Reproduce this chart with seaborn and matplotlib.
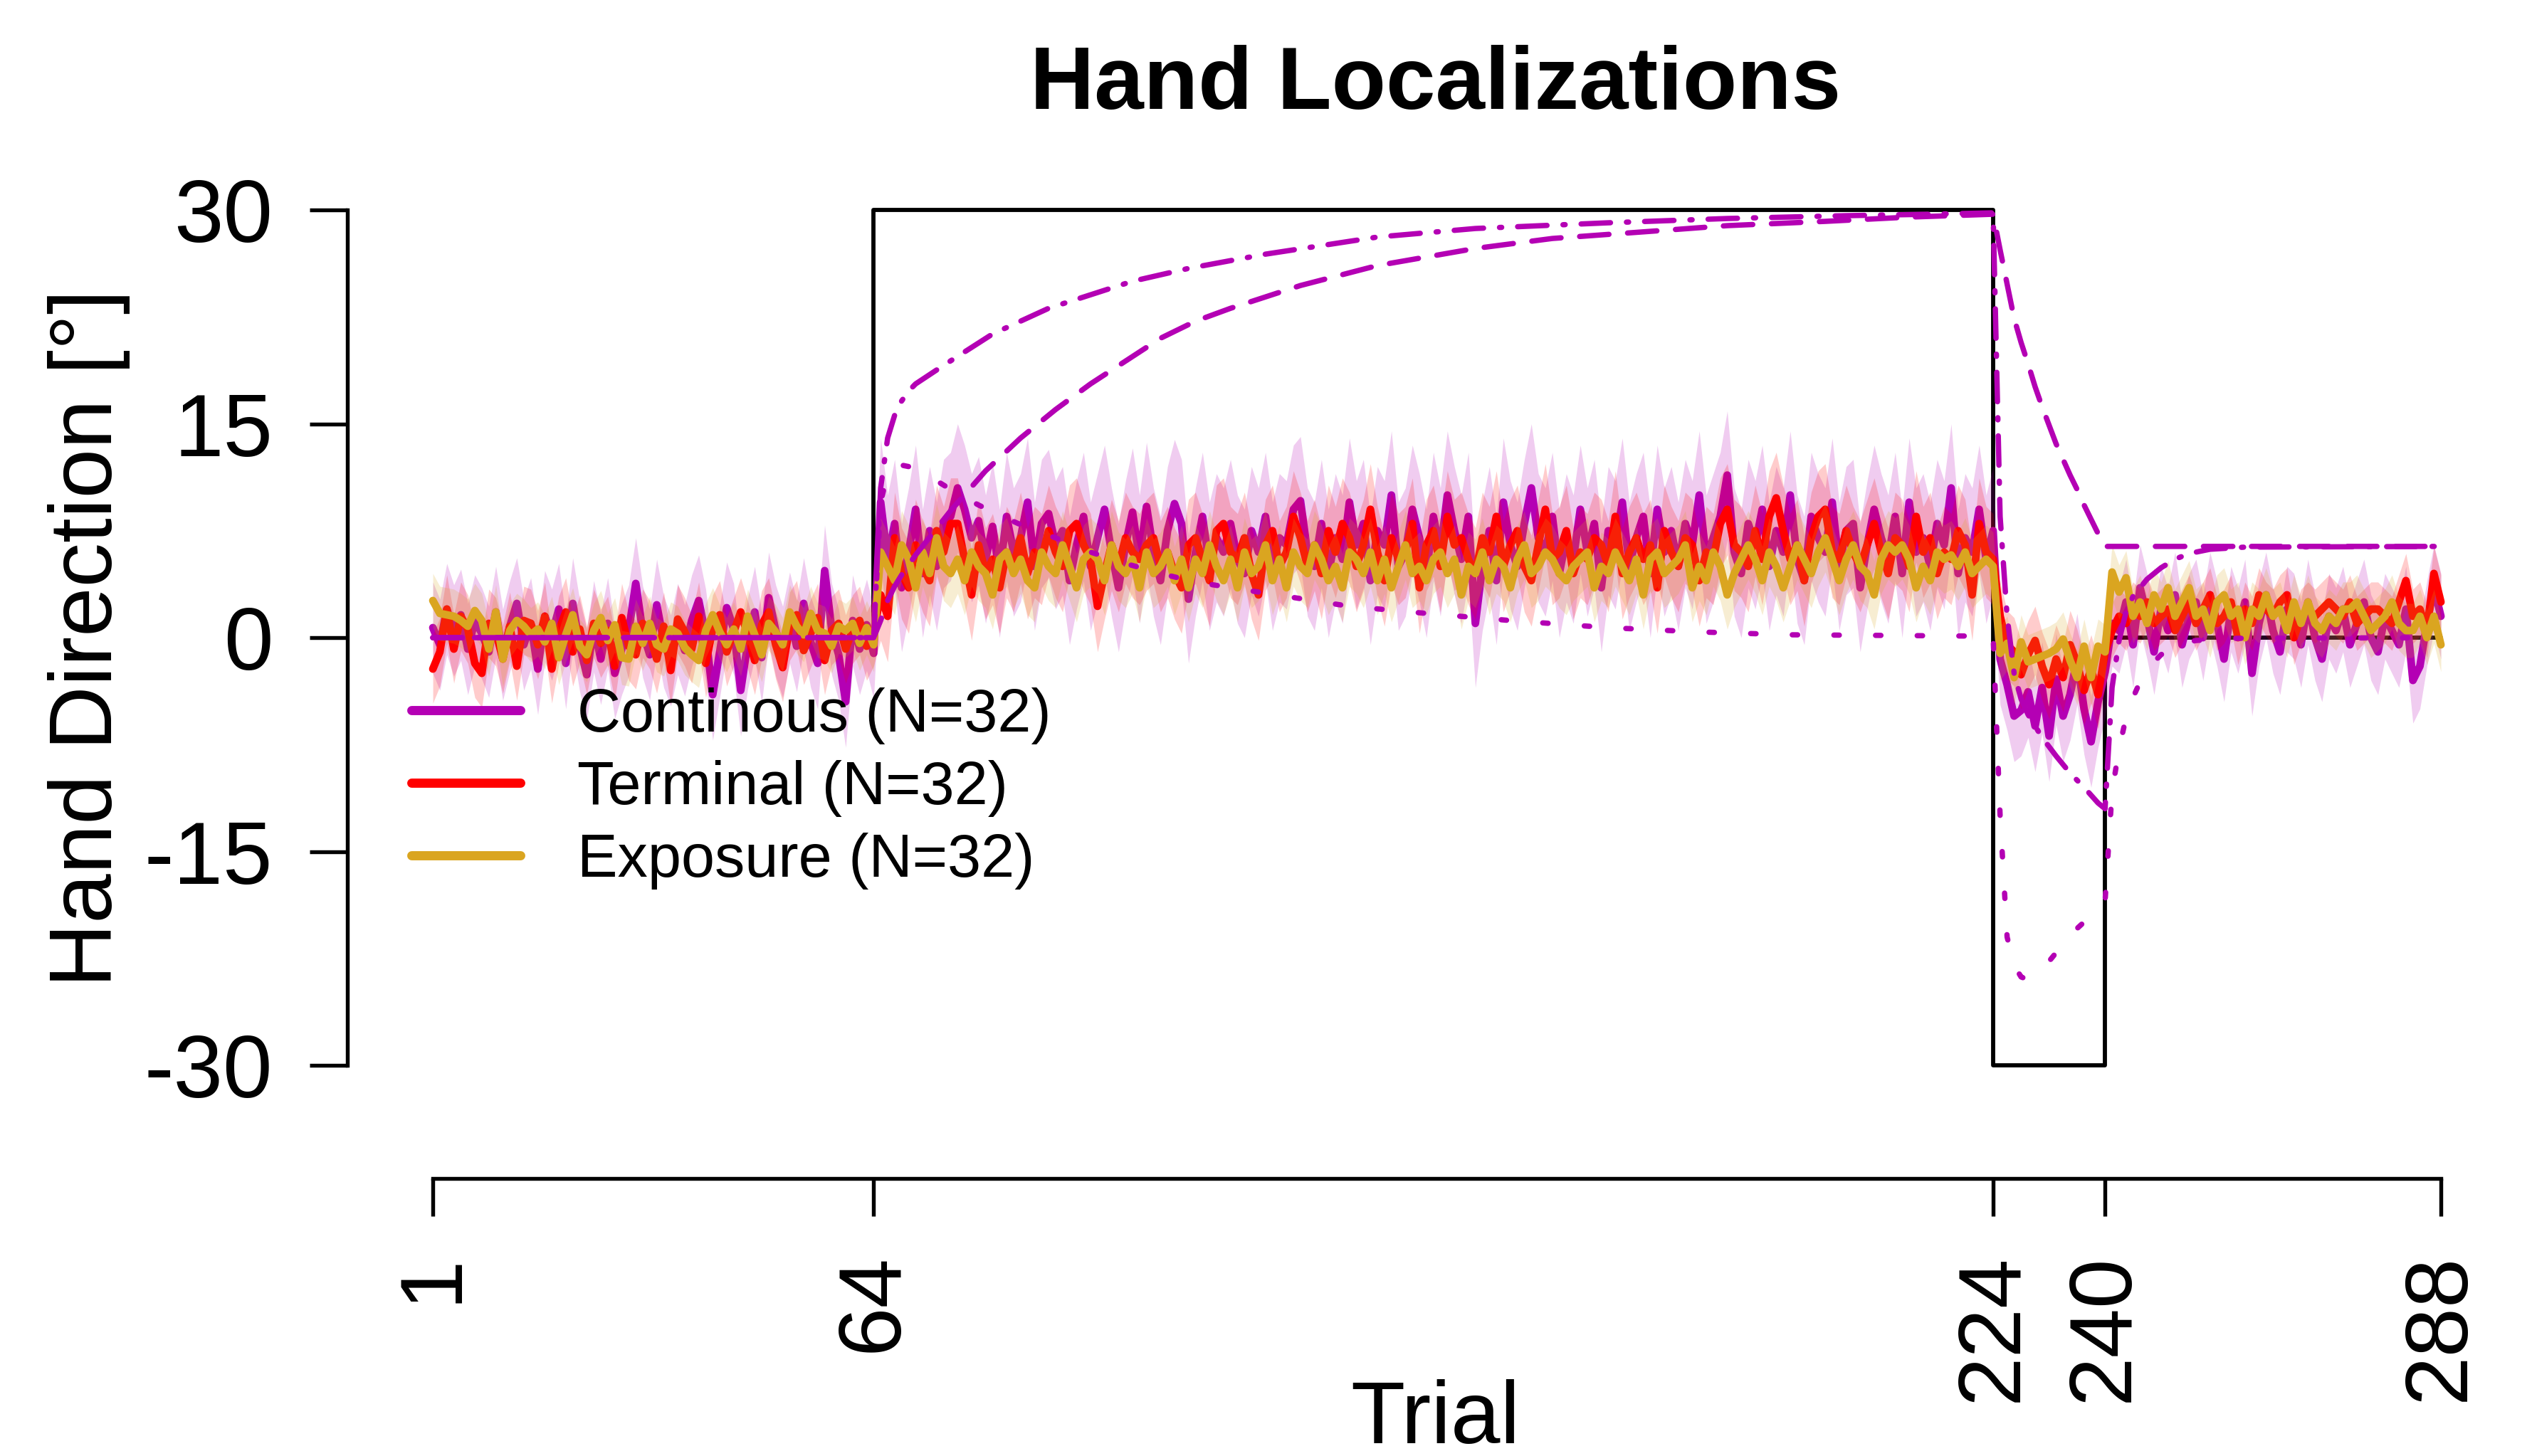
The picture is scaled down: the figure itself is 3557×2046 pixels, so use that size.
import numpy as np
import matplotlib
matplotlib.use("Agg")
import matplotlib.pyplot as plt
import seaborn as sns

# trial layout
trials = np.arange(1, 289)
phase_lengths = [64, 160, 16, 48]
xtick_trials = [1, 64, 224, 240, 288]
ytick_values = [-30, -15, 0, 15, 30]

# rotation schedule (black line)
schedule_x = [1, 64, 64, 224, 224, 240, 240, 288]
schedule_y = [0, 0, 30, 30, -30, -30, 0, 0]

# group means per trial, by phase: baseline (1-64), rotation (65-224), reversal (225-240), clamp (241-288)
continuous_base = [0.7, -0.5, 2.0, 0.5, 1.6, -0.8, 1.2, 0.3, -1.0, 1.8,
                   -1.2, 0.8, 2.4, -0.5, 1.0, -2.2, 1.5, 0.2, 2.0, -1.8,
                   2.4, -0.6, -2.6, 0.8, -1.5, 1.0, -2.5, -0.8, 0.5, 3.8,
                   0.4, -1.2, 2.3, -0.3, -1.6, 0.6, -0.9, 1.2, 2.6, 0.2,
                   -4.0, -1.0, 2.1, 0.6, -3.7, -0.4, 1.8, -1.4, 2.8, 0.5,
                   -1.0, 1.4, -0.6, 2.4, -0.3, -1.8, 4.7, 0.6, -1.2, -4.5,
                   1.2, -0.8, 0.9, -1.1]
continuous_rot = [9.5, 5.5, 8.0, 3.5, 6.0, 9.0, 4.5, 7.5, 5.0, 8.0,
                  8.5, 10.5, 9.0, 7.0, 8.2, 5.5, 7.8, 4.5, 8.5, 6.0,
                  7.0, 9.5, 5.0, 8.0, 8.7, 6.5, 7.5, 4.0, 6.5, 8.5,
                  5.0, 7.0, 9.0, 6.0, 3.5, 6.5, 8.8, 5.5, 9.2, 6.0,
                  4.0, 7.5, 9.4, 8.0, 2.7, 6.0, 8.5, 5.0, 7.0, 6.0,
                  8.0, 5.5, 4.5, 7.5, 6.0, 8.5, 5.0, 7.0, 6.5, 9.0,
                  9.6, 6.0, 5.0, 8.0, 4.5, 7.0, 5.5, 9.5, 6.5, 8.0,
                  4.0, 7.5, 6.5, 10.0, 5.0, 6.0, 9.0, 7.0, 4.5, 8.5,
                  6.0, 10.0, 7.5, 5.5, 8.5, 1.0, 5.0, 7.5, 4.0, 9.5,
                  6.5, 5.0, 8.0, 10.5, 7.0, 6.0, 8.5, 4.5, 7.0, 5.5,
                  9.0, 6.0, 8.0, 3.5, 7.5, 6.5, 9.5, 5.0, 7.0, 8.5,
                  4.5, 9.0, 6.0, 7.5, 5.0, 8.0, 6.5, 10.0, 5.5, 7.0,
                  8.5, 11.4, 6.0, 4.5, 8.0, 6.5, 9.0, 5.0, 7.5, 6.0,
                  10.0, 5.5, 4.0, 8.5, 7.0, 6.0, 9.5, 5.0, 7.5, 8.0,
                  3.5, 6.5, 9.0, 7.0, 5.5, 8.5, 4.5, 9.5, 6.0, 7.0,
                  5.0, 8.0, 6.5, 10.5, 4.5, 7.0, 6.0, 9.0, 5.5, 7.5]
continuous_rev = [-1.5, -3.3, -5.5, -5.1, -3.8, -6.2, -3.5, -6.9,
                  -2.9, -5.5, -4.0, -1.5, -5.0, -7.3, -4.5, -2.4]
continuous_clamp = [1.0, 0.5, 2.5, -0.5, 3.5, 1.5, -1.0, 2.0, 0.5, 3.0,
                    -0.5, 1.5, 2.5, 0.0, 3.0, 1.0, -1.5, 2.0, 0.5, 2.5,
                    -2.5, 1.0, 3.0, 0.5, -1.0, 2.0, 1.5, -0.5, 2.5, 0.0,
                    -1.5, 1.5, 0.5, 2.0, -0.5, 1.0, 2.5, 0.0, -1.0, 1.5,
                    0.5, -0.5, 2.0, -3.0, -2.0, 1.0, 3.5, 1.5]

terminal_base = [-2.2, -1.0, 2.0, -0.8, 1.5, 0.6, -1.8, -2.5, 1.0, 0.4,
                 -1.5, 0.8, -2.0, 1.2, 1.0, -0.5, 1.5, -2.2, 0.5, 1.8,
                 -1.0, 0.6, -1.6, 1.0, -0.4, 0.5, -2.0, 1.4, -0.6, -1.2,
                 1.0, 0.2, -1.5, 0.8, -2.3, 1.3, 0.4, -0.8, 1.5, -1.8,
                 0.6, 1.6, -1.0, 0.4, 1.8, 0.2, -1.6, 0.9, 1.8, -0.5,
                 -2.1, 0.8, 1.6, -0.9, 0.3, 1.4, -1.6, 0.5, 1.0, -0.8,
                 0.6, 1.2, -0.6, 0.4]
terminal_rot = [3.0, 1.5, 7.0, 4.5, 3.5, 6.5, 5.0, 4.0, 7.5, 6.0,
                8.0, 8.0, 5.5, 3.0, 6.5, 4.5, 5.5, 3.5, 6.0, 5.0,
                7.0, 4.5, 6.0, 5.5, 7.5, 6.0, 5.0, 7.5, 8.0, 6.5,
                5.5, 2.2, 4.5, 6.5, 5.0, 7.0, 6.0, 5.5, 6.5, 7.0,
                5.0, 6.0, 4.5, 3.5, 6.5, 7.0, 5.5, 4.0, 7.5, 8.0,
                6.0, 5.5, 7.0, 4.5, 3.0, 6.5, 7.5, 5.0, 6.0, 8.5,
                7.0, 5.0, 6.5, 4.5, 7.5, 6.0, 8.0, 7.0, 5.0, 6.5,
                9.0, 6.0, 4.0, 7.0, 5.5, 6.0, 8.0, 3.5, 6.5, 7.5,
                5.0, 8.5, 6.5, 7.0, 5.5, 4.5, 7.0, 6.0, 8.5, 5.0,
                6.5, 7.5, 5.0, 4.0, 6.5, 9.0, 5.5, 6.0, 7.5, 4.5,
                6.0, 5.5, 7.0, 6.5, 5.0, 8.5, 4.5, 6.0, 7.0, 5.5,
                6.5, 3.5, 7.5, 6.0, 5.0, 7.0, 6.5, 4.0, 6.0, 5.5,
                8.0, 9.0, 6.5, 6.0, 5.0, 7.5, 5.5, 8.5, 9.8, 7.5,
                5.5, 6.5, 4.0, 7.0, 8.5, 9.0, 6.0, 5.5, 7.5, 6.0,
                5.0, 6.5, 8.0, 6.0, 4.5, 7.0, 6.5, 5.0, 8.5, 6.0,
                7.0, 4.5, 6.0, 5.5, 7.5, 6.5, 3.0, 8.0, 6.0, 5.5]
terminal_rev = [1.5, -0.5, -1.0, -2.6, -1.2, -0.2, -2.0, -3.3,
                -1.5, -2.8, -0.5, -1.8, -3.7, -2.2, -4.0, -1.0]
terminal_clamp = [0.5, 1.5, 1.0, 2.0, 1.5, 2.5, 1.0, 1.5, 2.0, 0.5,
                  1.5, 2.5, 1.0, 2.0, 3.0, 1.0, 1.5, 2.5, 0.0, 2.0,
                  1.0, 3.0, 2.0, 1.5, 2.5, 3.0, 0.0, 1.5, 2.0, 1.5,
                  2.0, 2.5, 2.0, 1.5, 2.5, 1.0, 1.5, 2.0, 2.0, 1.5,
                  1.0, 2.5, 4.0, 1.5, 2.0, 0.5, 4.5, 2.5]

exposure_base = [2.6, 1.7, 1.6, 1.5, 1.2, 0.8, 1.9, 1.2, -0.8, 1.8,
                 -1.5, 0.5, 1.2, 0.8, 0.2, 0.6, -0.3, 1.0, -1.4, 0.2,
                 1.6, -0.6, -1.2, 0.5, 1.4, -0.2, 0.9, -1.4, -1.5, 0.8,
                 -0.4, 1.0, -0.5, -0.8, 0.6, 0.3, -0.7, -1.2, -1.6, 0.5,
                 1.6, 0.4, -0.5, 0.6, -0.8, 1.5, 0.2, -1.2, 1.0, 0.4,
                 -0.5, 1.8, 0.8, 0.2, 1.7, 0.5, 0.3, -0.6, 0.8, 0.5,
                 1.0, -0.4, 0.7, -0.5]
exposure_rot = [6.0, 5.0, 4.0, 6.5, 5.5, 3.5, 6.0, 4.5, 7.0, 5.0,
                4.5, 5.5, 4.0, 6.0, 5.0, 4.5, 3.0, 5.5, 6.0, 4.5,
                5.5, 4.0, 3.5, 6.0, 5.0, 4.5, 6.5, 5.0, 3.5, 5.5,
                6.0, 5.5, 4.0, 6.5, 5.0, 4.5, 5.5, 3.5, 6.0, 4.5,
                5.0, 6.0, 4.0, 5.5, 3.5, 5.5, 4.5, 6.5, 5.0, 4.0,
                5.5, 3.5, 6.0, 4.5, 5.0, 6.5, 4.0, 5.5, 3.5, 6.0,
                5.0, 4.5, 6.5, 5.5, 4.0, 5.0, 3.5, 6.0, 5.5, 4.5,
                6.0, 4.0, 5.5, 3.5, 5.0, 6.5, 4.5, 5.0, 4.0, 5.5,
                6.0, 4.5, 5.5, 3.0, 5.0, 4.5, 6.0, 4.0, 5.5, 5.0,
                3.5, 5.5, 6.5, 4.5, 5.0, 6.0, 5.5, 4.5, 4.0, 5.0,
                5.5, 6.0, 3.5, 5.0, 4.5, 6.0, 5.0, 4.0, 5.5, 3.0,
                5.5, 6.0, 4.5, 5.0, 5.5, 6.5, 3.5, 5.0, 4.0, 6.0,
                5.0, 3.0, 4.5, 5.5, 6.5, 5.5, 4.0, 6.0, 5.0, 3.5,
                5.0, 6.5, 5.5, 4.5, 6.0, 7.0, 5.5, 4.0, 5.5, 6.5,
                5.0, 4.5, 3.0, 5.5, 6.5, 6.0, 6.5, 5.5, 3.5, 5.0,
                4.0, 6.0, 5.5, 5.8, 5.0, 6.0, 4.5, 5.0, 5.5, 5.0]
exposure_rev = [-1.1, -0.4, -2.8, -0.3, -1.7, -1.5, -1.3, -1.1,
                -0.8, -0.1, -1.6, -2.8, -0.6, -2.8, -0.6, -1.0]
exposure_clamp = [4.6, 3.2, 4.2, 1.5, 2.5, 1.0, 3.0, 2.0, 3.5, 1.5,
                  2.5, 3.5, 1.5, 2.0, 0.5, 2.5, 3.0, 1.5, 2.0, 0.0,
                  2.0, 1.5, 3.0, 1.5, 2.0, 0.5, 2.5, 1.0, 2.5, 1.0,
                  0.5, 1.5, 1.0, 2.0, 2.0, 2.5, 1.5, 0.5, 1.0, 1.5,
                  2.5, 1.0, 0.5, 0.5, 1.5, 0.0, 1.5, -0.5]

# confidence interval half-widths per phase
continuous_ci = [3.2, 4.5, 3.2, 3.0]
terminal_ci = [2.4, 3.2, 2.4, 1.9]
exposure_ci = [1.9, 2.4, 1.9, 1.9]

# two-rate model fit for the continuous group
model_total_x = [1, 64, 65, 66, 67, 68, 69, 70, 74, 81, 89, 101, 109, 120, 136, 150, 169, 186, 203, 215,
                 224, 225, 226, 227, 228, 229, 231, 233, 235, 237, 239, 240, 241, 242, 243, 244, 246, 248,
                 250, 252, 255, 260, 288]
model_total_y = [0, 0, 10.5, 14.0, 15.6, 16.6, 17.3, 17.8, 19.1, 21.3, 23.1, 25.0, 25.9, 26.9, 28.1, 28.7,
                 29.1, 29.4, 29.6, 29.7, 29.8, 8.5, 1.5, -2.5, -4.3, -5.4, -7.0, -8.3, -9.5, -10.5, -11.6,
                 -12.0, -3.5, -0.2, 1.8, 2.9, 4.1, 4.9, 5.5, 5.9, 6.2, 6.35, 6.4]
model_slow_x = [1, 64, 65, 66, 67, 68, 70, 75, 80, 85, 90, 95, 100, 105, 110, 115, 125, 136, 150, 161,
                175, 186, 200, 212, 224, 225, 226, 227, 228, 229, 230, 231, 232, 233, 234, 235, 236, 237,
                238, 239, 240, 288]
model_slow_y = [0, 0, 1.2, 2.6, 3.6, 4.4, 5.8, 8.9, 11.7, 14.0, 16.0, 17.8, 19.4, 21.0, 22.2, 23.1, 24.7,
                26.1, 27.3, 28.0, 28.5, 28.9, 29.2, 29.5, 29.7, 27.2, 24.8, 22.4, 20.7, 19.2, 17.6, 16.2,
                14.9, 13.6, 12.5, 11.4, 10.4, 9.3, 8.3, 7.3, 6.4, 6.4]
model_fast_x = [1, 64, 65, 66, 67, 68, 70, 73, 76, 79, 82, 86, 90, 95, 100, 105, 110, 119, 132, 143,
                155, 169, 182, 195, 210, 224, 225, 226, 227, 228, 229, 230, 232, 234, 236, 238, 240, 241,
                242, 243, 244, 245, 246, 247, 248, 250, 253, 258, 288]
model_fast_y = [0, 0, 9.5, 11.5, 12.0, 12.1, 11.9, 11.0, 10.1, 9.3, 8.6, 7.7, 7.0, 6.0, 5.2, 4.5, 3.9,
                3.2, 2.2, 1.7, 1.2, 0.7, 0.4, 0.2, 0.15, 0.1, -12.5, -21.0, -23.0, -23.8, -24.0, -23.7,
                -22.7, -21.5, -20.4, -19.5, -18.5, -10.8, -7.8, -5.6, -4.2, -3.1, -2.3, -1.7, -1.2, -0.5,
                -0.2, -0.05, 0.0]

groups = [
    ("Continous (N=32)", "#b400b4", [continuous_base, continuous_rot, continuous_rev, continuous_clamp], continuous_ci),
    ("Terminal (N=32)", "#ff0000", [terminal_base, terminal_rot, terminal_rev, terminal_clamp], terminal_ci),
    ("Exposure (N=32)", "#daa520", [exposure_base, exposure_rot, exposure_rev, exposure_clamp], exposure_ci),
]
model_color = "#b400b4"

sns.set_style("white")
plt.rcParams["font.family"] = ["Liberation Sans", "DejaVu Sans"]
plt.rcParams["text.color"] = "black"
plt.rcParams["axes.labelcolor"] = "black"
plt.rcParams["xtick.color"] = "black"
plt.rcParams["ytick.color"] = "black"

fig = plt.figure(figsize=(3557 / 300, 2046 / 300), dpi=300)
ax = fig.add_axes([0.13503, 0.18020, 0.83452, 0.68539])

# schedule
ax.plot(schedule_x, schedule_y, color="black", linewidth=1.4, zorder=1)

# groups: band then mean line
handles = []
for label, color, phases, ci in groups:
    mean = np.concatenate(phases)
    assert len(mean) == len(trials), label
    half = np.repeat(ci, phase_lengths)
    ax.fill_between(trials, mean - half, mean + half, color=color, alpha=0.2, linewidth=0, zorder=2)
    sns.lineplot(x=trials, y=mean, color=color, linewidth=2.6, ax=ax, zorder=2)
    ax.lines[-1].set_solid_joinstyle("round")
    handles.append((ax.lines[-1], label))

# model lines
ax.plot(model_slow_x, model_slow_y, color=model_color, linewidth=1.8,
        dashes=(5.5, 3.5), dash_capstyle="round", zorder=3)
ax.plot(model_total_x, model_total_y, color=model_color, linewidth=1.8,
        dashes=(5.5, 3.0, 0.4, 3.0), dash_capstyle="round", zorder=3)
ax.plot(model_fast_x, model_fast_y, color=model_color, linewidth=1.8,
        dashes=(1.0, 6.8), dash_capstyle="round", zorder=3)

ax.set_xlim(-12, 290)
ax.set_ylim(-39, 31)
ax.set_xticks(xtick_trials)
ax.set_xticklabels([str(t) for t in xtick_trials])
ax.set_yticks(ytick_values)
ax.set_yticklabels([str(v) for v in ytick_values])
ax.tick_params(axis="both", which="major", bottom=True, left=True, direction="out",
               length=12.7, width=1.3, labelsize=30, pad=12.5, colors="black")
ax.tick_params(axis="x", labelrotation=90)

for side in ["top", "right"]:
    ax.spines[side].set_visible(False)
ax.spines["left"].set_position(("data", -11.2))
ax.spines["left"].set_bounds(-30, 30)
ax.spines["bottom"].set_position(("data", -37.94))
ax.spines["bottom"].set_bounds(1, 288)
for side in ["left", "bottom"]:
    ax.spines[side].set_linewidth(1.3)
    ax.spines[side].set_color("black")
ax.grid(False)

fig.text(0.567, 0.9252, "Hand Localizations", fontsize=30, fontweight="bold", ha="center", va="baseline")
fig.text(0.567, 0.009, "Trial", fontsize=30, ha="center", va="baseline")
fig.text(0.0351, 0.5616, "Hand Direction [°]", fontsize=30, rotation=90, ha="center", va="center")

leg = ax.legend([h for h, _ in handles], [l for _, l in handles], loc="upper left",
                bbox_to_anchor=(0.1625, 0.528), bbox_transform=fig.transFigure,
                frameon=False, fontsize=20.3, borderaxespad=0, borderpad=0,
                handlelength=1.81, handletextpad=0.95, labelspacing=0.26)
for line in leg.get_lines():
    line.set_linewidth(3.1)
    line.set_solid_capstyle("round")

fig.savefig("out.png", dpi=300)
